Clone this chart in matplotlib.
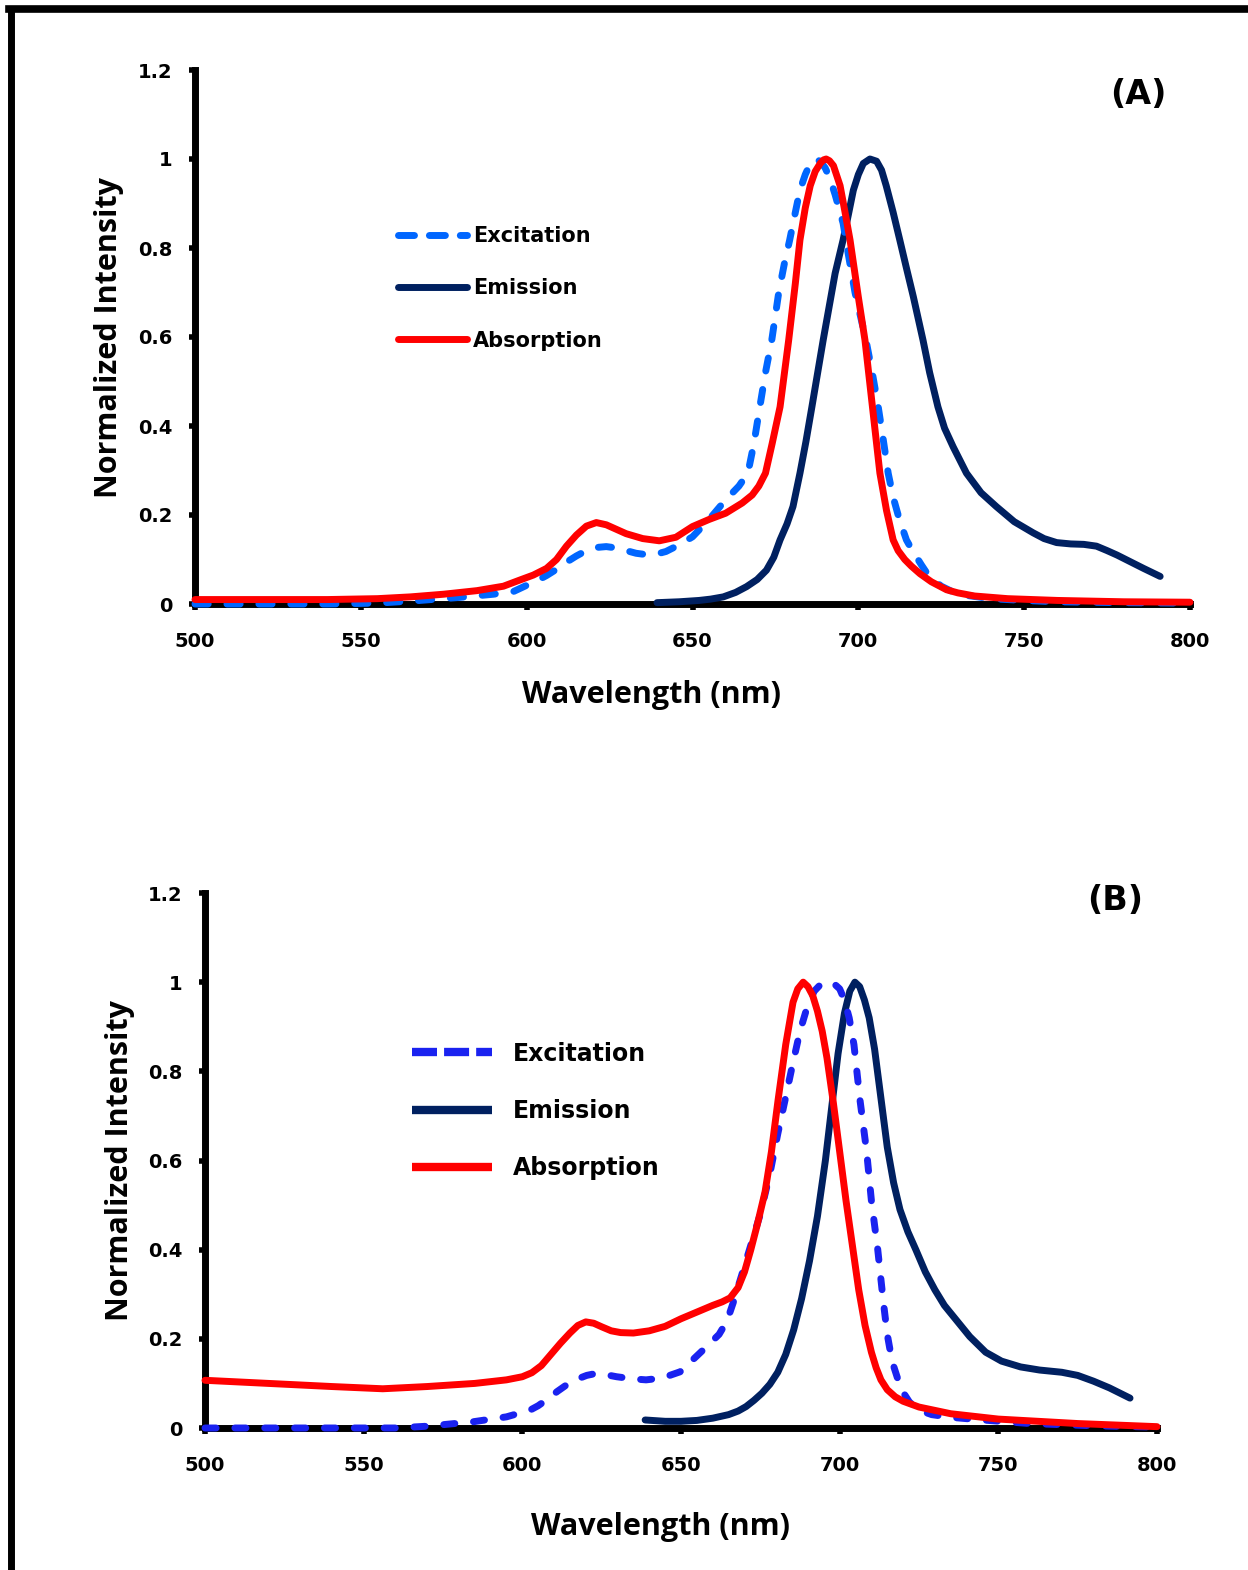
import matplotlib
matplotlib.use("Agg")
import matplotlib.pyplot as plt
from matplotlib.lines import Line2D

# ---- panel A data ----
exc_a_x = [500, 520, 540, 555, 566, 580, 590, 596, 600, 603, 606, 609, 612, 615, 618, 621, 624, 627, 630, 633, 636,
           639, 642, 646, 650, 655, 660, 664, 666.7, 668.5, 670.3, 672, 673.9, 676, 677.7, 679.3, 681, 682.4, 684,
           685.5, 687, 688.5, 690, 691.5, 693, 695.4, 697, 699, 700.7, 702.3, 704.2, 706, 707.5, 709, 710.5, 712,
           713.3, 714.5, 716, 717.5, 719, 720.6, 722.5, 725, 728, 732, 740, 750, 760, 780, 800]
exc_a_y = [0.0, 0.0, 0.0, 0.002, 0.007, 0.015, 0.022, 0.028, 0.042, 0.052, 0.064, 0.078, 0.094, 0.108, 0.12, 0.127, 0.129, 0.126, 0.12, 0.114, 0.111,
           0.112, 0.118, 0.133, 0.151, 0.19, 0.234, 0.265, 0.294, 0.36, 0.443, 0.52, 0.593, 0.7, 0.765, 0.818, 0.88, 0.93, 0.965,
           0.99, 1.0, 0.995, 0.98, 0.955, 0.92, 0.856, 0.785, 0.7, 0.645, 0.593, 0.52, 0.443, 0.37, 0.294, 0.24, 0.2,
           0.17, 0.144, 0.124, 0.106, 0.088, 0.07, 0.055, 0.04, 0.029, 0.02, 0.012, 0.008, 0.005, 0.003, 0.002]

emi_a_x = [639.3, 646, 652, 655.5, 659.3, 663, 666.3, 669.5, 672.3, 674.5, 676.4, 678.5, 680.3, 682.4, 684.2, 686,
           687.7, 689.4, 691.2, 693, 695.4, 697, 698.5, 700, 701.5, 703.5, 705.5, 707, 708.4, 710.5, 712.5, 714.5,
           716.6, 719.5, 721.5, 724, 726, 728.6, 732.6, 737, 741.6, 747, 752.7, 756, 759.8, 764, 768, 771.8, 775,
           778, 782, 786, 791]
emi_a_y = [0.003, 0.005, 0.008, 0.011, 0.016, 0.026, 0.039, 0.055, 0.076, 0.105, 0.144, 0.18, 0.219, 0.294, 0.365, 0.443,
           0.518, 0.593, 0.668, 0.743, 0.818, 0.875, 0.93, 0.965, 0.99, 1.0, 0.995, 0.975, 0.94, 0.88, 0.818, 0.755,
           0.69, 0.593, 0.52, 0.443, 0.395, 0.353, 0.294, 0.25, 0.219, 0.185, 0.16, 0.147, 0.138, 0.135, 0.134, 0.13, 0.12,
           0.11, 0.095, 0.08, 0.062]

abs_a_x = [500, 520, 540, 555, 565, 575, 585, 593, 598, 602, 606, 609, 612, 615, 618, 621, 624, 627, 630, 635, 640,
           645, 650, 655, 660, 665, 668, 670, 672, 674, 676.4, 679, 681, 682.4, 684, 685.5, 687, 688.5, 689.5, 690.3,
           691.3, 692.5, 694.5, 696, 697.5, 700, 702, 704, 706.5, 708.5, 710.5, 712, 714, 716, 718.6, 722, 726.6, 730,
           735, 745, 760, 780, 800]
abs_a_y = [0.01, 0.01, 0.01, 0.012, 0.016, 0.022, 0.03, 0.04, 0.054, 0.065, 0.08, 0.1, 0.13, 0.155, 0.175, 0.183, 0.178, 0.168, 0.158, 0.147, 0.142,
           0.15, 0.174, 0.19, 0.204, 0.227, 0.245, 0.265, 0.294, 0.36, 0.443, 0.593, 0.72, 0.818, 0.89, 0.94, 0.972, 0.99, 0.998, 1.0,
           0.996, 0.985, 0.94, 0.88, 0.818, 0.69, 0.593, 0.46, 0.294, 0.21, 0.144, 0.12, 0.1, 0.085, 0.068, 0.05, 0.032, 0.025,
           0.018, 0.012, 0.008, 0.005, 0.004]

# ---- panel B data ----
exc_b_x = [500, 520, 540, 560, 570, 584.5, 595, 602.4, 605, 608, 611, 614, 617, 620.3, 623, 626, 629.7, 635, 639, 644,
           649.7, 654, 658, 662, 664.5, 666.4, 669, 672, 675, 678, 680.5, 682.8, 685, 687.5, 690, 692, 694, 696, 698,
           700, 701.5, 703, 704.5, 706.4, 708.5, 710, 712, 713.7, 715, 716.5, 718.4, 720, 722, 725, 729, 735, 745, 760,
           780, 800]
exc_b_y = [0.0, 0.0, 0.0, 0.0, 0.004, 0.014, 0.025, 0.04, 0.05, 0.065, 0.082, 0.097, 0.109, 0.118, 0.122, 0.12, 0.115, 0.11, 0.108, 0.112,
           0.126, 0.155, 0.182, 0.21, 0.24, 0.28, 0.34, 0.41, 0.48, 0.57, 0.66, 0.736, 0.81, 0.89, 0.95, 0.98, 0.995, 1.0, 0.998,
           0.985, 0.96, 0.92, 0.86, 0.736, 0.62, 0.51, 0.4, 0.287, 0.21, 0.15, 0.108, 0.08, 0.058, 0.04, 0.03, 0.024, 0.018, 0.01,
           0.005, 0.002]

emi_b_x = [638.7, 645, 650, 655, 660, 665, 668, 670.5, 673, 675.5, 678, 680.5, 683, 685.5, 688, 690.5, 693, 695.5,
           697.5, 699.5, 701.5, 703.2, 704.8, 706.3, 707.8, 709.3, 711, 713, 715, 717, 719, 721.5, 724, 727, 730, 733,
           737, 741, 746, 751, 757, 763, 770, 775, 780, 785, 791.5]
emi_b_y = [0.018, 0.015, 0.015, 0.017, 0.022, 0.03, 0.038, 0.048, 0.062, 0.078, 0.098, 0.125, 0.165, 0.22, 0.29, 0.375, 0.475, 0.6,
           0.72, 0.84, 0.93, 0.98, 1.0, 0.99, 0.96, 0.92, 0.85, 0.74, 0.63, 0.55, 0.49, 0.44, 0.4, 0.35, 0.31, 0.275,
           0.24, 0.205, 0.17, 0.15, 0.137, 0.13, 0.125, 0.118, 0.105, 0.09, 0.067]

abs_b_x = [500, 520, 540, 556, 570, 585, 595, 600, 603, 606, 609, 612, 615, 617.5, 620, 622.5, 625, 628, 631, 635, 640,
           645, 650, 655, 660, 663, 665.5, 668, 670, 672, 674, 676.5, 678.5, 680.6, 683, 685.3, 686.8, 688.5, 690, 691.5,
           693, 694.5, 696, 698, 700, 702, 704, 706, 708, 710, 711.5, 713, 715, 717.5, 720, 725, 735, 750, 775, 800]
abs_b_y = [0.107, 0.1, 0.093, 0.088, 0.093, 0.1, 0.108, 0.115, 0.124, 0.14, 0.165, 0.19, 0.213, 0.23, 0.238, 0.235, 0.227, 0.218, 0.214, 0.213, 0.218,
           0.228, 0.245, 0.26, 0.275, 0.283, 0.292, 0.315, 0.35, 0.4, 0.455, 0.53, 0.62, 0.736, 0.86, 0.955, 0.985, 1.0, 0.99, 0.97,
           0.935, 0.89, 0.83, 0.73, 0.62, 0.51, 0.41, 0.31, 0.23, 0.17, 0.135, 0.108, 0.086, 0.07, 0.06, 0.047, 0.032, 0.02, 0.01, 0.003]

x_ticks = [500, 550, 600, 650, 700, 750, 800]
y_ticks = [0, 0.2, 0.4, 0.6, 0.8, 1.0, 1.2]
y_labels = ["0", "0.2", "0.4", "0.6", "0.8", "1", "1.2"]

RED = "#FF0000"
NAVY = "#002060"

fig = plt.figure(figsize=(12.48, 15.70), dpi=100)

# outer frame (left and top only)
fig.add_artist(Line2D([8.5 / 1248, 1.0], [1 - 8.5 / 1570, 1 - 8.5 / 1570], color="black", lw=5.5,
                      transform=fig.transFigure, solid_capstyle="projecting"))
fig.add_artist(Line2D([11 / 1248, 11 / 1248], [0.0, 1 - 8.5 / 1570], color="black", lw=5,
                      transform=fig.transFigure))


def style_axes(ax, xlab_pos, ylab_x):
    ax.set_xlim(500, 800)
    ax.set_ylim(0, 1.2)
    for s in ["top", "right"]:
        ax.spines[s].set_visible(False)
    for s in ["left", "bottom"]:
        ax.spines[s].set_linewidth(5)
        ax.spines[s].set_zorder(1)
    ax.set_xticks(x_ticks)
    ax.set_xticklabels([str(t) for t in x_ticks])
    ax.set_yticks(y_ticks)
    ax.set_yticklabels(y_labels)
    ax.tick_params(axis="x", direction="out", length=4, width=4, pad=16)
    ax.tick_params(axis="y", direction="out", length=4, width=4, pad=12)
    for t in ax.get_xticklabels() + ax.get_yticklabels():
        t.set_fontsize(14)
        t.set_fontweight("bold")
        t.set_family("DejaVu Sans")
    ax.set_xlabel("Wavelength (nm)", fontsize=22, fontweight="bold", family="Open Sans")
    ax.set_ylabel("Normalized Intensity", fontsize=22, fontweight="bold", family="Open Sans")
    ax.xaxis.set_label_coords(xlab_pos[0], xlab_pos[1])
    ax.xaxis.label.set_va("top")
    ax.yaxis.set_label_coords(ylab_x, 0.5)


# ---- panel A ----
axA = fig.add_axes([195 / 1248, 1 - 604 / 1570, 995 / 1248, 534 / 1570])
axA.plot(emi_a_x, emi_a_y, color=NAVY, lw=5, solid_capstyle="round", solid_joinstyle="round", zorder=3, clip_on=False)
axA.plot(abs_a_x, abs_a_y, color=RED, lw=5, solid_capstyle="round", solid_joinstyle="round", zorder=4, clip_on=False)
axA.plot(exc_a_x, exc_a_y, color="#0066FF", lw=5, dashes=(1.9, 2.7), dash_capstyle="round", zorder=3, clip_on=False)
style_axes(axA, (0.459, -0.142), -0.071)

hA = [Line2D([], [], color="#0066FF", lw=5, dashes=(2.3, 2.15), dash_capstyle="round"),
      Line2D([], [], color=NAVY, lw=5, solid_capstyle="round"),
      Line2D([], [], color=RED, lw=5, solid_capstyle="round")]
axA.legend(hA, ["Excitation", "Emission", "Absorption"], loc="upper left", bbox_to_anchor=(0.204, 0.708),
           frameon=False, prop={"family": "DejaVu Sans", "weight": "bold", "size": 15},
           handlelength=3.3, handletextpad=0.3, labelspacing=1.55, borderpad=0, borderaxespad=0)
axA.text(1138 / 1248, 1 - 94 / 1570, "(A)", transform=fig.transFigure, ha="center", va="center",
         fontsize=24, fontweight="bold", family="DejaVu Sans")

# ---- panel B ----
axB = fig.add_axes([205 / 1248, 1 - 1428 / 1570, 952 / 1248, 535 / 1570])
axB.plot(emi_b_x, emi_b_y, color=NAVY, lw=5, solid_capstyle="round", solid_joinstyle="round", zorder=3, clip_on=False)
axB.plot(exc_b_x, exc_b_y, color="#1A22F0", lw=5, dashes=(1.6, 2.7), dash_capstyle="round", zorder=3, clip_on=False)
axB.plot(abs_b_x, abs_b_y, color=RED, lw=5, solid_capstyle="round", solid_joinstyle="round", zorder=4, clip_on=False)
style_axes(axB, (0.478, -0.157), -0.0735)

hB = [Line2D([], [], color="#1A22F0", lw=6, dashes=(3, 0.85), dash_capstyle="butt"),
      Line2D([], [], color=NAVY, lw=6, solid_capstyle="butt"),
      Line2D([], [], color=RED, lw=6, solid_capstyle="butt")]
axB.legend(hB, ["Excitation", "Emission", "Absorption"], loc="upper left", bbox_to_anchor=(0.217, 0.722),
           frameon=False, prop={"family": "DejaVu Sans", "weight": "bold", "size": 17},
           handlelength=3.4, handletextpad=0.9, labelspacing=1.4, borderpad=0, borderaxespad=0)
axB.text(1115 / 1248, 1 - 901 / 1570, "(B)", transform=fig.transFigure, ha="center", va="center",
         fontsize=24, fontweight="bold", family="DejaVu Sans")

fig.savefig("out.png", dpi=100)
